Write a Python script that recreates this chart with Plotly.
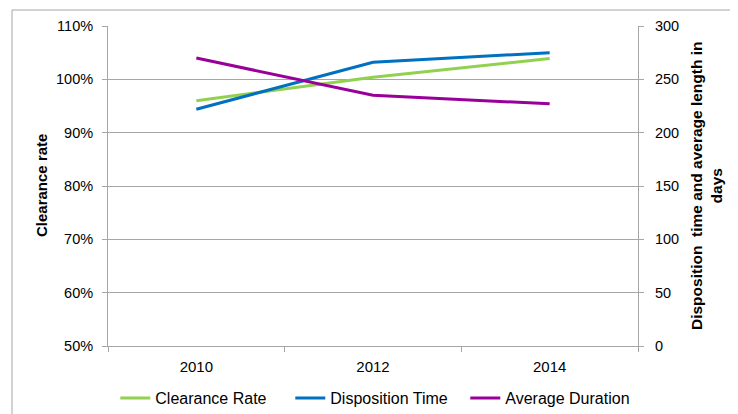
import plotly.graph_objects as go

years = ["2010", "2012", "2014"]
clearance_rate = [0.960, 1.004, 1.039]
disposition_time = [222, 266, 275]
average_duration = [270, 235, 227]

GREEN = "#92D050"
BLUE = "#0070C0"
PURPLE = "#990099"
GRID = "#A6A6A6"
FONT = "Liberation Sans, Arial, sans-serif"

fig = go.Figure()
fig.add_trace(go.Scatter(x=years, y=clearance_rate, name="Clearance Rate", mode="lines",
                         line=dict(color=GREEN, width=3), yaxis="y"))
fig.add_trace(go.Scatter(x=years, y=disposition_time, name="Disposition Time", mode="lines",
                         line=dict(color=BLUE, width=3), yaxis="y2"))
fig.add_trace(go.Scatter(x=years, y=average_duration, name="Average Duration", mode="lines",
                         line=dict(color=PURPLE, width=3), yaxis="y2"))

# page body has an 8px margin, so the figure is drawn 8px right/down
fig.update_layout(
    width=730, height=406,
    margin=dict(l=100, r=100, t=18, b=68, autoexpand=False),
    paper_bgcolor="white", plot_bgcolor="white",
    font=dict(family=FONT, size=14.5, color="#000000"),
    showlegend=True,
    legend=dict(orientation="h", xref="container", x=107.3/730, xanchor="left",
                y=-0.163, yanchor="middle",
                font=dict(size=16), itemwidth=30, entrywidth=130, entrywidthmode="pixels",
                tracegroupgap=0, bgcolor="rgba(0,0,0,0)"),
    xaxis=dict(type="category", range=[-0.5, 2.5], showline=True, linecolor=GRID, linewidth=1,
               ticks="outside", tickson="boundaries", ticklen=5, tickcolor=GRID,
               showgrid=False, zeroline=False, ticklabelstandoff=7, automargin=False,
               tickfont=dict(size=15)),
    yaxis=dict(range=[0.5, 1.1], dtick=0.1, tickformat=".0%", showline=True, linecolor=GRID,
               ticks="outside", ticklen=5, tickcolor=GRID, showgrid=True, gridcolor=GRID,
               gridwidth=1, zeroline=False, ticklabelstandoff=6, automargin=False),
    yaxis2=dict(range=[0, 300], dtick=50, overlaying="y", side="right", showline=True,
                linecolor=GRID, ticks="outside", ticklen=5, tickcolor=GRID, showgrid=False,
                zeroline=False, ticklabelstandoff=8, automargin=False),
    annotations=[
        dict(text="<b>Clearance rate</b>", xref="paper", yref="paper", x=(41-108)/530, y=0.5,
             xanchor="center", yanchor="middle", textangle=-90, showarrow=False,
             font=dict(size=15)),
        dict(text="<b>Disposition  time and average length in<br>days</b>", xref="paper",
             yref="paper", x=(706-108)/530, y=0.5, xanchor="center", yanchor="middle",
             textangle=-90, showarrow=False, font=dict(size=15.5)),
    ],
    shapes=[dict(type="rect", xref="paper", yref="paper", x0=-96/530, x1=2, y0=-2, y1=336/320,
                 line=dict(color=GRID, width=1), fillcolor="rgba(0,0,0,0)", layer="below")],
)

fig.write_html("out.html")
